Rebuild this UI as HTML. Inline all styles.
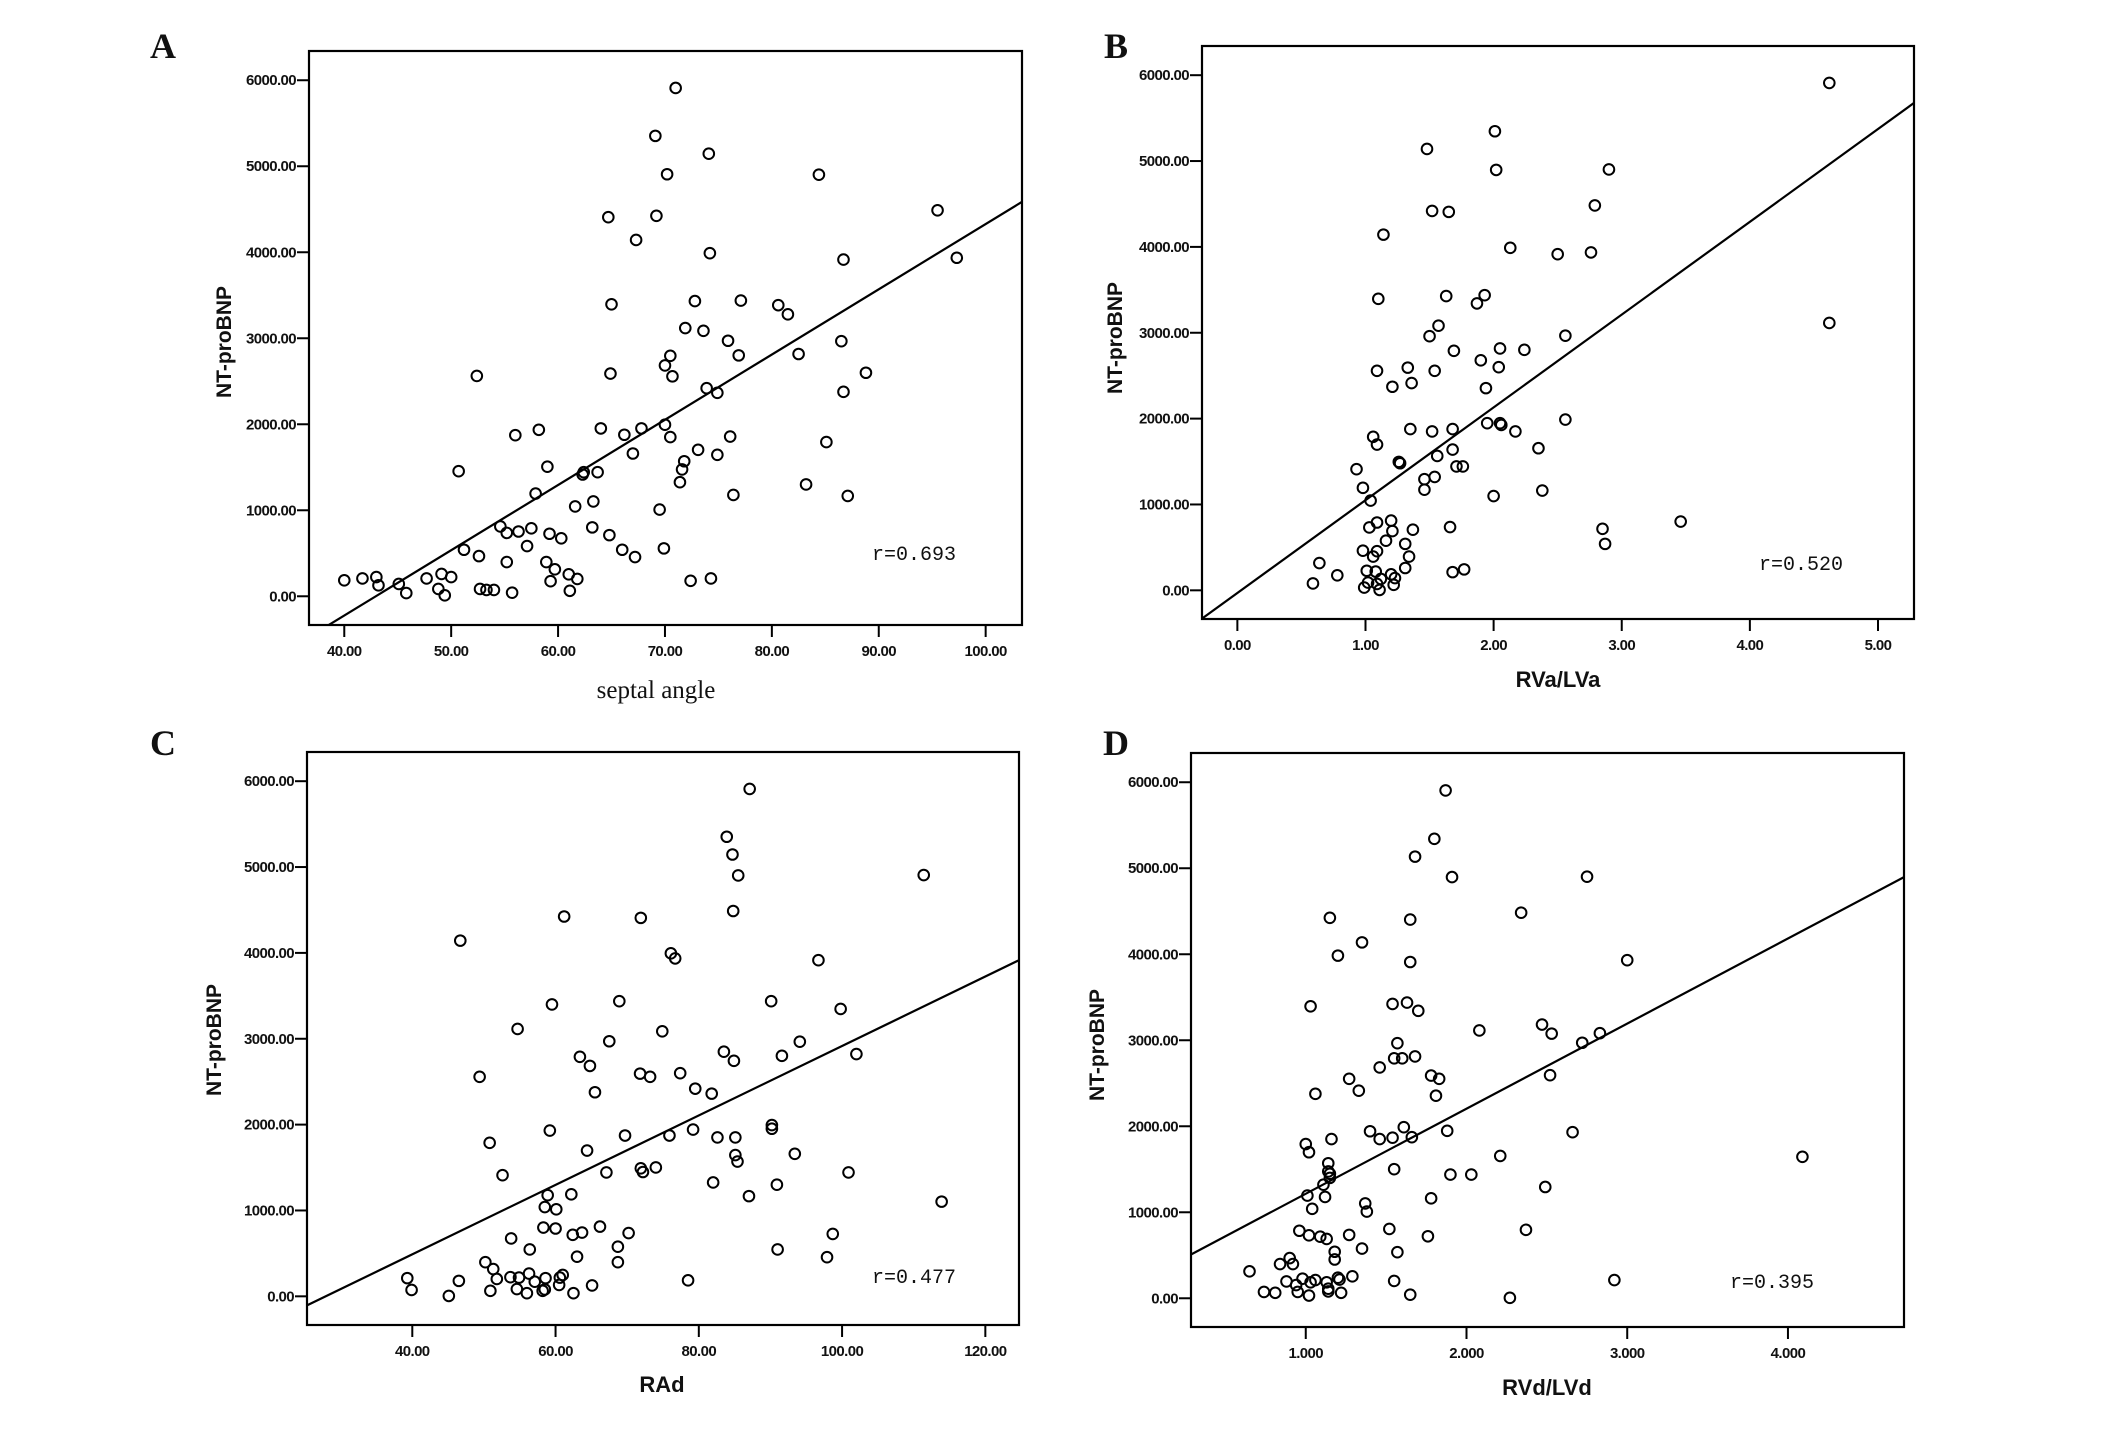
<!DOCTYPE html>
<html><head><meta charset="utf-8"><style>
html,body{margin:0;padding:0;background:#fff;}
svg{display:block;}
.tk{font-family:"Liberation Sans",sans-serif;font-size:15px;font-weight:bold;fill:#111;}
.yt{font-family:"Liberation Sans",sans-serif;font-size:21px;font-weight:bold;fill:#111;}
.xs{font-family:"Liberation Sans",sans-serif;font-size:22px;font-weight:bold;fill:#111;}
.xserif{font-family:"Liberation Serif",serif;font-size:25px;fill:#111;}
.lt{font-family:"Liberation Serif",serif;font-size:36px;font-weight:bold;fill:#111;}
.rr{font-family:"Liberation Mono",monospace;font-size:20px;fill:#111;}
</style></head><body>
<svg id="fig" width="2126" height="1432" viewBox="0 0 2126 1432" xmlns="http://www.w3.org/2000/svg"></svg>
<script>
// Panel A: septal angle
const aX=[40.0,41.7,43.0,43.2,45.1,45.8,47.7,48.8,49.1,49.4,50.0,50.7,51.2,52.4,52.6,52.7,53.3,54.0,54.6,55.2,55.2,55.7,56.0,56.3,57.1,57.5,57.9,58.2,58.9,59.0,59.2,59.3,59.7,60.3,61.0,61.1,61.6,61.8,62.3,62.4,63.2,63.3,63.7,64.0,64.7,64.8,64.9,65.0,66.0,66.2,67.0,67.2,67.3,67.8,69.1,69.2,69.5,69.9,70.0,70.0,70.2,70.5,70.5,70.7,71.0,71.4,71.6,71.8,71.9,72.4,72.8,73.1,73.6,73.9,74.1,74.2,74.3,74.9,74.9,75.9,76.1,76.4,76.9,77.1,80.6,81.5,82.5,83.2,84.4,85.1,86.5,86.7,86.7,87.1,88.8,95.5,97.3];
const aY=[186,207,223,127,143,37,207,85,260,11,223,1454,541,2562,467,85,74,74,812,398,737,42,1873,753,584,790,1194,1936,398,1507,727,175,313,674,255,64,1045,202,1416,1443,801,1103,1443,1952,4408,711,2589,3395,541,1878,1660,456,4143,1952,5353,4424,1008,557,1995,2684,4907,1851,2796,2557,5910,1326,1475,1570,3119,180,3432,1703,3087,2419,5146,3989,207,1645,2366,2971,1857,1178,2801,3438,3385,3278,2817,1300,4902,1793,2966,2377,3915,1167,2599,4488,3936];
const aXTicks=[40,50,60,70,80,90,100];
const aFit=[75.86,-3258];
// Panel B: RVa/LVa
const bX=[0.59,0.64,0.78,0.93,0.98,0.98,0.99,1.01,1.02,1.03,1.04,1.06,1.06,1.08,1.09,1.09,1.09,1.09,1.10,1.09,1.11,1.12,1.14,1.16,1.20,1.21,1.21,1.20,1.22,1.23,1.26,1.27,1.31,1.31,1.33,1.34,1.35,1.36,1.37,1.46,1.46,1.48,1.50,1.52,1.52,1.54,1.54,1.56,1.57,1.63,1.65,1.66,1.68,1.68,1.68,1.69,1.71,1.76,1.77,1.87,1.90,1.93,1.94,1.95,2.00,2.01,2.02,2.04,2.05,2.05,2.06,2.13,2.17,2.24,2.35,2.38,2.50,2.56,2.56,2.76,2.79,2.85,2.87,2.90,3.46,4.62,4.62];
const bY=[80,318,175,1411,1194,462,32,228,90,732,1045,1788,393,218,2557,456,1698,790,3395,74,5,133,4143,578,812,2371,690,186,64,143,1496,1480,260,541,2594,393,1878,2414,706,1294,1172,5141,2960,1851,4419,1321,2557,1565,3082,3427,4408,737,212,1639,1878,2790,1443,1443,244,3342,2679,3438,2355,1947,1098,5347,4897,2599,2817,1947,1926,3989,1851,2801,1655,1162,3915,1989,2966,3936,4483,716,541,4902,801,5910,3114];
const bXTicks=[0,1,2,3,4,5];
const bFit=[1080.8,-31];
// Panel C: RAd
const cX=[39.3,39.9,45.1,46.5,46.7,49.4,50.2,50.8,50.9,51.3,51.8,52.6,53.7,53.8,54.7,54.6,54.9,56.0,56.3,56.4,57.1,58.2,58.5,58.3,58.5,58.6,58.9,59.2,59.5,60.0,60.1,60.5,60.6,61.0,61.2,62.4,62.2,62.5,63.0,63.4,63.7,64.4,64.8,65.1,65.5,66.2,67.1,67.5,68.7,68.7,68.9,69.7,70.2,71.8,71.9,72.2,71.9,73.2,74.0,74.9,75.9,76.1,76.7,77.4,78.5,79.2,79.5,81.8,82.0,82.6,83.5,83.9,84.7,84.9,84.8,85.1,85.1,85.4,85.5,87.0,87.1,90.1,90.2,90.2,90.9,91.0,91.6,93.4,94.1,96.7,97.9,98.7,99.8,100.9,102.0,111.4,113.9];
const cY=[212,74,5,180,4143,2557,398,1788,64,318,202,1411,223,674,3114,85,218,37,265,546,170,64,80,801,1040,212,1178,1931,3400,790,1013,133,218,249,4424,716,1188,37,462,2790,743,1698,2684,127,2377,812,1443,2971,398,578,3438,1873,737,2594,1491,1448,4408,2557,1501,3087,1873,3995,3936,2599,186,1942,2419,2361,1326,1851,2849,5353,5146,2743,4488,1851,1645,1570,4902,1167,5910,3438,1952,1995,1300,546,2801,1660,2966,3915,456,727,3347,1443,2822,4907,1103];
const cXTicks=[40,60,80,100,120];
const cFit=[40.45,-1129];
// Panel D: RVd/LVd
const dX=[0.65,0.74,0.81,0.84,0.88,0.90,0.92,0.94,0.95,0.96,0.98,1.00,1.01,1.02,1.02,1.02,1.03,1.03,1.04,1.06,1.06,1.09,1.11,1.12,1.13,1.13,1.14,1.14,1.14,1.14,1.15,1.15,1.15,1.16,1.18,1.18,1.20,1.20,1.21,1.22,1.27,1.27,1.29,1.33,1.35,1.35,1.37,1.38,1.40,1.46,1.46,1.52,1.54,1.54,1.55,1.55,1.55,1.57,1.57,1.60,1.61,1.63,1.65,1.65,1.65,1.66,1.68,1.68,1.70,1.76,1.78,1.78,1.80,1.81,1.83,1.87,1.88,1.90,1.91,2.03,2.08,2.21,2.27,2.34,2.37,2.47,2.49,2.52,2.53,2.66,2.72,2.75,2.83,2.92,3.00,4.09];
const dY=[313,74,64,398,196,467,398,154,74,785,228,1793,1194,1698,732,32,3395,186,1040,212,2377,716,1321,1178,690,186,80,111,1570,1475,1448,4424,1400,1851,541,451,3984,239,218,64,2552,737,255,2414,4138,578,1103,1008,1942,2684,1851,806,1867,3422,2790,202,1501,536,2966,2790,1989,3438,4403,3910,42,1873,2812,5135,3342,721,2589,1162,5342,2355,2552,5905,1947,1438,4897,1438,3114,1655,5,4483,796,3183,1294,2594,3077,1931,2971,4902,3082,212,3931,1645];
const dXTicks=[1,2,3,4];
const dFit=[989.2,226];
const yTicks=[0,1000,2000,3000,4000,5000,6000];

const NS="http://www.w3.org/2000/svg";
const svg=document.getElementById('fig');
function mk(tag,attrs,parent,text){const e=document.createElementNS(NS,tag);for(const k in attrs)e.setAttribute(k,attrs[k]);if(text!==undefined)e.textContent=text;(parent||svg).appendChild(e);return e;}

function panel(p){
  const g=mk('g',{});
  
  
  const sx=v=>p.L+(v-p.x0)/(p.x1-p.x0)*(p.R-p.L);
  const sy=v=>p.B-(v-(-334))/(6340+334)*(p.B-p.T);
  const fr=mk('rect',{x:p.L,y:p.T,width:p.R-p.L,height:p.B-p.T,fill:'none',stroke:'#000','stroke-width':2.2},g);
  
  
  yTicks.forEach(v=>{
    const y=sy(v);
    const t=mk('line',{x1:p.L-12,x2:p.L,y1:y,y2:y,stroke:'#000','stroke-width':2},g);
    
    
    const lb=mk('text',{x:p.L-13,y:y+5,'text-anchor':'end',class:'tk','letter-spacing':'-0.6'},g,v.toFixed(2));
    
    
  });
  p.xt.forEach(v=>{
    const x=sx(v);
    const t=mk('line',{x1:x,x2:x,y1:p.B,y2:p.B+12,stroke:'#000','stroke-width':2},g);
    
    
    const lb=mk('text',{x:x,y:p.B+31,'text-anchor':'middle',class:'tk','letter-spacing':'-0.6'},g,v.toFixed(p.dec));
    
    
  });
  // regression line clipped to frame
  const cp=mk('clipPath',{id:'clip'+p.id},g);
  mk('rect',{x:p.L,y:p.T,width:p.R-p.L,height:p.B-p.T},cp);
  const ln=mk('line',{x1:sx(p.x0),y1:sy(p.fit[0]*p.x0+p.fit[1]),x2:sx(p.x1),y2:sy(p.fit[0]*p.x1+p.fit[1]),stroke:'#000','stroke-width':2.2,'clip-path':'url(#clip'+p.id+')'},g);
  
  
  p.xs.forEach((xv,i)=>{
    const c=mk('circle',{cx:sx(xv),cy:sy(p.ys[i]),r:5.3,fill:'none',stroke:'#000','stroke-width':2},g);
    
    
  });
  const r=mk('text',{x:p.rx,y:p.ry,'text-anchor':'middle',class:'rr'},g,p.r);
  
  
  const yt=mk('text',{x:p.ytx,y:p.yty,'text-anchor':'middle',class:'yt',transform:'rotate(-90 '+p.ytx+' '+p.yty+')'},g,'NT-proBNP');
  
  
  const xt=mk('text',{x:p.xtx,y:p.xty,'text-anchor':'middle',class:p.xcls},g,p.xtitle);
  
  
  const lt=mk('text',{x:p.lx,y:p.ly,'text-anchor':'middle',class:'lt'},g,p.id);
  
  
}
panel({id:'A',L:309,R:1022,T:51,B:625,x0:36.7,x1:103.4,xs:aX,ys:aY,xt:aXTicks,dec:2,fit:aFit,r:'r=0.693',rx:914,ry:560,ytx:231,yty:342,xtx:656,xty:698,xtitle:'septal angle',xcls:'xserif',lx:163,ly:58});
panel({id:'B',L:1202,R:1914,T:46,B:619,x0:-0.276,x1:5.281,xs:bX,ys:bY,xt:bXTicks,dec:2,fit:bFit,r:'r=0.520',rx:1801,ry:570,ytx:1122,yty:338,xtx:1558,xty:687,xtitle:'RVa/LVa',xcls:'xs',lx:1116,ly:58});
panel({id:'C',L:307,R:1019,T:752,B:1325,x0:25.3,x1:124.7,xs:cX,ys:cY,xt:cXTicks,dec:2,fit:cFit,r:'r=0.477',rx:914,ry:1283,ytx:221,yty:1040,xtx:662,xty:1392,xtitle:'RAd',xcls:'xs',lx:163,ly:755});
panel({id:'D',L:1191,R:1904,T:753,B:1327,x0:0.286,x1:4.722,xs:dX,ys:dY,xt:dXTicks,dec:3,fit:dFit,r:'r=0.395',rx:1772,ry:1288,ytx:1104,yty:1045,xtx:1547,xty:1395,xtitle:'RVd/LVd',xcls:'xs',lx:1116,ly:755});
</script>
</body></html>
